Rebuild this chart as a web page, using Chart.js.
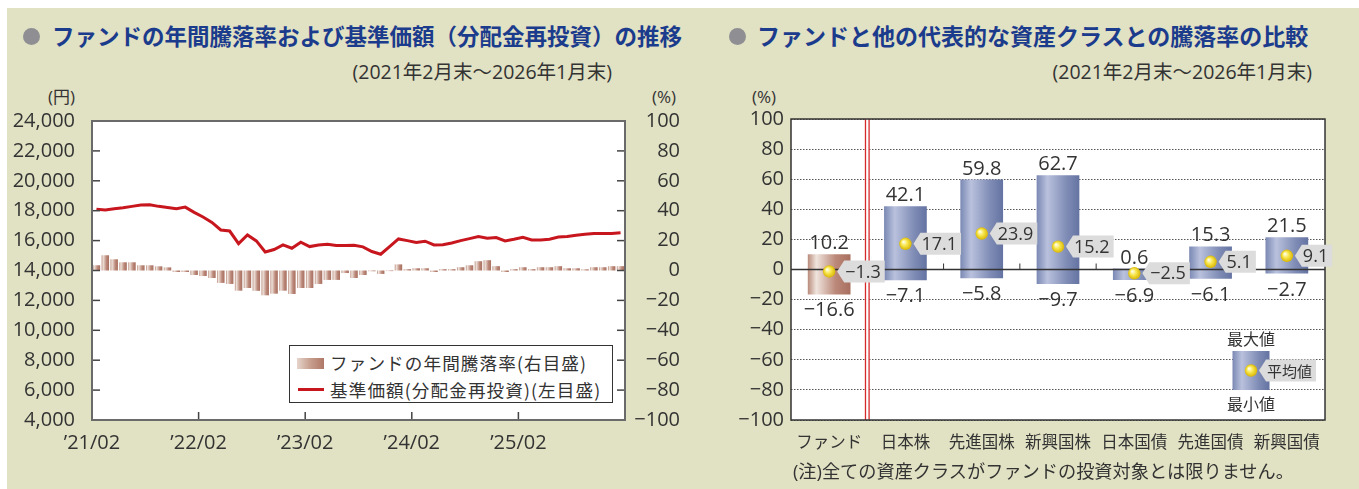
<!DOCTYPE html>
<html><head><meta charset="utf-8">
<script src="https://cdn.jsdelivr.net/npm/chart.js@4/dist/chart.umd.min.js"></script>
<style>
html,body{margin:0;padding:0;background:#fff;width:1359px;height:489px;overflow:hidden;font-family:"Open Sans","Noto Sans CJK JP",sans-serif;color:#333}
#panel{position:absolute;left:7px;top:8px;width:1352px;height:481px;background:#e1e1c3}
.abs{position:absolute;white-space:nowrap;line-height:1}
.bullet{position:absolute;width:17px;height:17px;border-radius:50%;background:#8f8f93}
.title{position:absolute;white-space:nowrap;font-family:"Noto Sans CJK JP",sans-serif;font-weight:700;font-size:22.5px;color:#1b3b8c;line-height:1}
.sub{font-family:"Open Sans","Noto Sans CJK JP",sans-serif;font-size:19.5px;color:#333}
canvas{position:absolute}
#legend{position:absolute;left:289px;top:345px;width:324px;height:58px;box-sizing:border-box;border:1px solid #333;background:#fff}
#legend .sw{position:absolute;left:7px;top:12px;width:27px;height:11px;background:linear-gradient(90deg,#e6d5cc 0%,#c9a293 45%,#b07866 100%)}
#legend .ln{position:absolute;left:8px;top:42px;width:26px;height:3px;background:#c8161e}
#legend .tx{position:absolute;left:40px;font-family:"Noto Sans CJK JP",sans-serif;font-size:17.6px;letter-spacing:1.1px;line-height:1;white-space:nowrap;color:#333}
</style></head>
<body>
<div id="panel"></div>
<div class="bullet" style="left:23px;top:28px"></div>
<div class="title" style="left:52px;top:24px">ファンドの年間騰落率および基準価額（分配金再投資）の推移</div>
<div class="abs sub" style="right:747px;top:62px">(2021年2月末～2026年1月末)</div>
<div class="abs sub" style="left:48px;top:88px;font-size:17px">(円)</div>
<div class="abs sub" style="left:652px;top:88px;font-size:17px">(%)</div>

<div class="bullet" style="left:729px;top:28px"></div>
<div class="title" style="left:757px;top:24px;font-size:23px">ファンドと他の代表的な資産クラスとの騰落率の比較</div>
<div class="abs sub" style="right:47px;top:62px">(2021年2月末～2026年1月末)</div>
<div class="abs sub" style="left:752px;top:88px;font-size:17px">(%)</div>

<canvas id="c1" width="700" height="360" style="left:0;top:100px"></canvas>
<canvas id="c2" width="659" height="360" style="left:700px;top:100px"></canvas>

<div id="legend">
  <div class="sw"></div><div class="tx" style="top:8px">ファンドの年間騰落率(右目盛)</div>
  <div class="ln"></div><div class="tx" style="top:35px">基準価額(分配金再投資)(左目盛)</div>
</div>
<div class="abs" style="left:793px;top:462px;font-family:'Open Sans','Noto Sans CJK JP',sans-serif;font-size:18.2px;color:#333">(注)全ての資産クラスがファンドの投資対象とは限りません。</div>

<script>
// ---------------- data: left chart ----------------
const monthLabels = [
 "’21/02","’21/03","’21/04","’21/05","’21/06","’21/07","’21/08","’21/09","’21/10","’21/11","’21/12","’22/01",
 "’22/02","’22/03","’22/04","’22/05","’22/06","’22/07","’22/08","’22/09","’22/10","’22/11","’22/12","’23/01",
 "’23/02","’23/03","’23/04","’23/05","’23/06","’23/07","’23/08","’23/09","’23/10","’23/11","’23/12","’24/01",
 "’24/02","’24/03","’24/04","’24/05","’24/06","’24/07","’24/08","’24/09","’24/10","’24/11","’24/12","’25/01",
 "’25/02","’25/03","’25/04","’25/05","’25/06","’25/07","’25/08","’25/09","’25/10","’25/11","’25/12","’26/01"
];
const navValues = [
 18090, 18040, 18130, 18200, 18290, 18380, 18400, 18290, 18220, 18130,
 18240, 17890, 17580, 17220, 16710, 16640, 15800, 16380, 15980, 15240,
 15400, 15710, 15490, 15890, 15600, 15710, 15760, 15670, 15670, 15690,
 15580, 15270, 15090, 15600, 16110, 16000, 15870, 15960, 15710, 15730,
 15840, 16000, 16130, 16270, 16160, 16200, 15980, 16090, 16220, 16040,
 16040, 16090, 16240, 16270, 16360, 16420, 16470, 16470, 16470, 16530
];
const annualReturn = [
 3.5, 10.2, 7.5, 5.5, 5.5, 3.5, 3.5, 2.8, 2.1, -1.0,
 -1.0, -3.0, -3.7, -5.0, -8.3, -9.0, -13.5, -11.7, -13.6, -16.6,
 -15.5, -13.5, -15.7, -11.7, -11.7, -9.0, -6.3, -6.3, -1.7, -5.0,
 -3.0, -0.5, -2.3, -0.4, 4.1, 0.9, 1.5, 1.5, -1.0, 0.9,
 0.9, 2.2, 3.5, 6.2, 6.9, 2.9, -1.0, 0.9, 2.2, 0.9,
 2.2, 2.2, 2.9, 1.5, 1.5, 0.8, 2.2, 2.2, 2.9, 2.9
];
// ---------------- data: right chart ----------------
const assetClasses = ["ファンド","日本株","先進国株","新興国株","日本国債","先進国債","新興国債"];
const maxReturn = [10.2, 42.1, 59.8, 62.7, 0.6, 15.3, 21.5];
const minReturn = [-16.6, -7.1, -5.8, -9.7, -6.9, -6.1, -2.7];
const avgReturn = [-1.3, 17.1, 23.9, 15.2, -2.5, 5.1, 9.1];

// ---------------- helpers ----------------
Chart.defaults.font.family = '"Open Sans","Noto Sans CJK JP",sans-serif';
Chart.defaults.color = '#333';
const minus = s => String(s).replace('-', '−');
function line(ctx,x1,y1,x2,y2){ctx.beginPath();ctx.moveTo(x1,y1);ctx.lineTo(x2,y2);ctx.stroke();}
function brownGrad(ctx,x0,x1){
  const g = ctx.createLinearGradient(x0,0,x1,0);
  g.addColorStop(0,'#b98b7b'); g.addColorStop(0.2,'#efe4dd'); g.addColorStop(0.65,'#bb8879'); g.addColorStop(1,'#a86f5f');
  return g;
}
function blueGrad(ctx,x0,x1){
  const g = ctx.createLinearGradient(x0,0,x1,0);
  g.addColorStop(0,'#7a88b3'); g.addColorStop(0.25,'#b9c1dd'); g.addColorStop(0.7,'#7f8cb5'); g.addColorStop(1,'#6473a2');
  return g;
}
function dot(ctx,x,y){
  const g = ctx.createRadialGradient(x-2,y-2,0.5,x,y,6.5);
  g.addColorStop(0,'#fffde2'); g.addColorStop(0.45,'#f7e54a'); g.addColorStop(1,'#d6b200');
  ctx.fillStyle = g; ctx.beginPath(); ctx.arc(x,y,6.2,0,Math.PI*2); ctx.fill();
}
function callout(ctx,x,y,text,font){
  ctx.font = font;
  const w = ctx.measureText(text).width;
  const tip = x+8, left = x+15, right = left+w+5, h = 11;
  ctx.fillStyle = '#dcdcdc';
  ctx.beginPath(); ctx.moveTo(tip,y); ctx.lineTo(left,y-h); ctx.lineTo(right,y-h); ctx.lineTo(right,y+h); ctx.lineTo(left,y+h); ctx.closePath(); ctx.fill();
  ctx.fillStyle = '#333'; ctx.textAlign = 'left'; ctx.textBaseline = 'middle';
  ctx.fillText(text,left+1,y+1);
}

// ---------------- left chart ----------------
const leftDecor = {
  id:'leftDecor',
  beforeDraw(chart){
    const {ctx, chartArea:a} = chart;
    ctx.save(); ctx.fillStyle='#fff'; ctx.fillRect(a.left,a.top,a.width,a.height); ctx.restore();
  },
  afterDraw(chart){
    const {ctx, chartArea:a, scales} = chart;
    ctx.save();
    ctx.strokeStyle = '#444'; ctx.lineWidth = 1.5;
    scales.y.ticks.forEach(t => {
      const y = scales.y.getPixelForValue(t.value);
      if (y > a.top+2 && y < a.bottom-2) line(ctx,a.left,y,a.left+8,y);
    });
    scales.y1.ticks.forEach(t => {
      const y = scales.y1.getPixelForValue(t.value);
      if (y > a.top+2 && y < a.bottom-2) line(ctx,a.right-8,y,a.right,y);
    });
    for (let i=12;i<monthLabels.length;i+=12){
      const x = (scales.x.getPixelForValue(i-1)+scales.x.getPixelForValue(i))/2;
      line(ctx,x,a.bottom,x,a.bottom-8);
    }
    ctx.strokeStyle = '#6a6a6a'; ctx.lineWidth = 2;
    ctx.strokeRect(a.left,a.top,a.width,a.height);
    ctx.restore();
  }
};

new Chart(document.getElementById('c1'), {
  data: {
    labels: monthLabels,
    datasets: [
      { type:'line', label:'基準価額(分配金再投資)(左目盛)', data: navValues, yAxisID:'y',
        borderColor:'#c8161e', borderWidth:3, pointRadius:0, tension:0 },
      { type:'bar', label:'ファンドの年間騰落率(右目盛)', data: annualReturn, yAxisID:'y1',
        categoryPercentage:1, barPercentage:0.84, borderWidth:0,
        backgroundColor: c => {
          const ch = c.chart;
          if (!ch.chartArea) return '#bb8879';
          const xs = ch.scales.x;
          const cx = xs.getPixelForValue(c.dataIndex);
          const w = xs.width/monthLabels.length*0.84;
          return brownGrad(ch.ctx,cx-w/2,cx+w/2);
        } }
    ]
  },
  options: {
    responsive:false, animation:false,
    layout:{ padding:{ top:19, right:20, left:0, bottom:0 } },
    plugins:{ legend:{display:false}, tooltip:{enabled:false} },
    scales: {
      x: { type:'category', offset:true, grid:{display:false}, border:{display:false},
           ticks:{ autoSkip:false, maxRotation:0, minRotation:0, padding:3, labelOffset:-4.44,
                   font:{size:20}, callback:(v,i)=> i%12===0 ? monthLabels[i] : '' },
           afterFit: s => { s.height = 40; } },
      y: { position:'left', min:4000, max:24000, grid:{display:false}, border:{display:false},
           ticks:{ stepSize:2000, padding:9, font:{size:20}, callback:v => v.toLocaleString('en-US') },
           afterFit: s => { s.width = 92; } },
      y1:{ position:'right', min:-100, max:100, grid:{display:false}, border:{display:false},
           ticks:{ stepSize:20, crossAlign:'far', font:{size:20}, callback:v => minus(v) },
           afterFit: s => { s.width = 55; } }
    }
  },
  plugins:[leftDecor]
});

// ---------------- right chart ----------------
const rightDecor = {
  id:'rightDecor',
  beforeDraw(chart){
    const {ctx, chartArea:a} = chart;
    ctx.save(); ctx.fillStyle='#fff'; ctx.fillRect(a.left,a.top,a.width,a.height); ctx.restore();
  },
  afterDatasetsDraw(chart){
    const {ctx, chartArea:a, scales:{x,y}} = chart;
    ctx.save();
    const y0 = y.getPixelForValue(0);
    ctx.strokeStyle = '#333'; ctx.lineWidth = 1.5;
    line(ctx,a.left,y0,a.right,y0);
    ctx.lineWidth = 1;
    for (let i=2;i<assetClasses.length;i++){
      const bx = (x.getPixelForValue(i-1)+x.getPixelForValue(i))/2;
      line(ctx,bx,y0,bx,y0-6);
    }
    const rx = (x.getPixelForValue(0)+x.getPixelForValue(1))/2;
    ctx.fillStyle = '#fff'; ctx.fillRect(rx-2,a.top,4,a.height);
    ctx.strokeStyle = '#d42a2a'; ctx.lineWidth = 1.3;
    line(ctx,rx-1.8,a.top,rx-1.8,a.bottom); line(ctx,rx+1.8,a.top,rx+1.8,a.bottom);

    ctx.strokeStyle = '#333'; ctx.lineWidth = 1.5;
    ctx.strokeRect(a.left,a.top,a.width,a.height);

    ctx.fillStyle = '#333'; ctx.textAlign = 'center'; ctx.textBaseline = 'alphabetic';
    ctx.font = '20px "Open Sans","Noto Sans CJK JP",sans-serif';
    assetClasses.forEach((c,i) => {
      const cx = x.getPixelForValue(i);
      ctx.fillStyle = '#333';
      ctx.fillText(maxReturn[i].toFixed(1), cx, y.getPixelForValue(maxReturn[i]) - 5);
      ctx.fillText(minus(minReturn[i].toFixed(1)), cx, y.getPixelForValue(minReturn[i]) + 22);
    });
    assetClasses.forEach((c,i) => {
      const cx = x.getPixelForValue(i), cy = y.getPixelForValue(avgReturn[i]);
      dot(ctx,cx,cy);
      callout(ctx,cx,cy,minus(avgReturn[i].toFixed(1)),'18px "Open Sans","Noto Sans CJK JP",sans-serif');
    });

    // sample legend (最大値 / 平均値 / 最小値)
    const sx = a.right - 74, st = a.top + 232, sb = a.top + 271;
    ctx.fillStyle = blueGrad(ctx,sx-18.5,sx+18.5);
    ctx.fillRect(sx-18.5,st,37,sb-st);
    dot(ctx,sx,a.top+251.5);
    callout(ctx,sx,a.top+251.5,'平均値','15px "Noto Sans CJK JP",sans-serif');
    ctx.fillStyle = '#333'; ctx.textAlign='center'; ctx.textBaseline='middle';
    ctx.font = '16px "Noto Sans CJK JP",sans-serif';
    ctx.fillText('最大値', sx, a.top+219.5);
    ctx.fillText('最小値', sx, a.top+285);
    ctx.restore();
  }
};

new Chart(document.getElementById('c2'), {
  type:'bar',
  data: {
    labels: assetClasses,
    datasets: [{
      label:'騰落率', data: assetClasses.map((_,i) => [minReturn[i], maxReturn[i]]),
      categoryPercentage:1, barPercentage:0.56, borderWidth:0,
      backgroundColor: c => {
        const ch = c.chart;
        if (!ch.chartArea) return '#7f8cb5';
        const xs = ch.scales.x;
        const cx = xs.getPixelForValue(c.dataIndex);
        const w = xs.width/assetClasses.length*0.56;
        return c.dataIndex === 0 ? brownGrad(ch.ctx,cx-w/2,cx+w/2) : blueGrad(ch.ctx,cx-w/2,cx+w/2);
      }
    }]
  },
  options: {
    responsive:false, animation:false,
    layout:{ padding:{ top:19, right:34, left:0, bottom:0 } },
    plugins:{ legend:{display:false}, tooltip:{enabled:false} },
    scales: {
      x: { grid:{display:false}, border:{display:false},
           ticks:{ padding:5, font:{size:16.5} },
           afterFit: s => { s.height = 40; } },
      y: { min:-100, max:100,
           grid:{ color:'#555', lineWidth:1, drawTicks:false },
           border:{ display:false, dash:[1.5,1.5] },
           ticks:{ stepSize:20, padding:7, font:{size:20}, callback:v => minus(v) },
           afterFit: s => { s.width = 91; } }
    }
  },
  plugins:[rightDecor]
});
</script>
</body></html>
